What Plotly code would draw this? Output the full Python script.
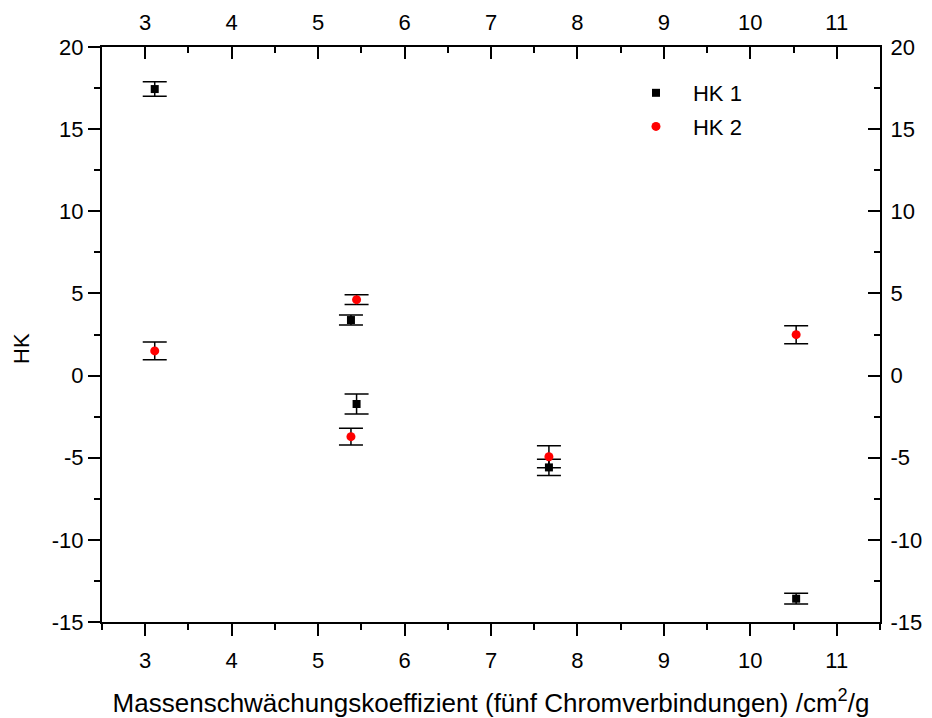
import plotly.graph_objects as go

# Data
hk1_x = [3.11, 5.38, 5.445, 7.67, 10.53]
hk1_y = [17.44, 3.38, -1.73, -5.59, -13.58]
hk1_err = [0.44, 0.30, 0.61, 0.50, 0.33]

hk2_x = [3.11, 5.445, 5.38, 7.67, 10.53]
hk2_y = [1.50, 4.62, -3.72, -4.94, 2.49]
hk2_err = [0.54, 0.30, 0.51, 0.67, 0.55]

y_tickvals = [-15, -10, -5, 0, 5, 10, 15, 20]
y_ticktext = ["-15", "-10", "-5", "0", "5", "10", "15", "20"]

x_title = "Massenschwächungskoeffizient (fünf Chromverbindungen) /cm<sup>2</sup>/g"
y_title = "HK"

FONT = "Liberation Sans, Arial, sans-serif"
FS = 22

fig = go.Figure()
fig.add_trace(go.Scatter(
    x=hk1_x, y=hk1_y, mode="markers", name="HK 1", legendgroup="a",
    marker=dict(symbol="square", size=8, color="black"),
    error_y=dict(type="data", array=hk1_err, visible=True, color="black", thickness=1.5, width=12),
))
fig.add_trace(go.Scatter(
    x=hk2_x, y=hk2_y, mode="markers", name="HK 2", legendgroup="b",
    marker=dict(symbol="circle", size=9, color="#ff0000"),
    error_y=dict(type="data", array=hk2_err, visible=True, color="black", thickness=1.5, width=12),
))
# invisible trace to anchor secondary (top/right) axes
fig.add_trace(go.Scatter(x=[hk1_x[0]], y=[hk1_y[0]], xaxis="x2", yaxis="y2",
                         mode="markers", marker=dict(opacity=0), showlegend=False, hoverinfo="skip"))

XR = [2.5, 11.5]
YR = [-15, 20]
axis_common = dict(showline=True, linecolor="black", linewidth=2, showgrid=False, zeroline=False,
                   ticklen=12, tickwidth=2, tickcolor="black", automargin=False,
                   tickfont=dict(family=FONT, size=FS, color="black"))

fig.update_layout(
    width=924, height=710,
    margin=dict(l=94, r=52, t=39, b=96),
    paper_bgcolor="white", plot_bgcolor="white",
    font=dict(family=FONT, size=FS, color="black"),
    showlegend=True,
    legend=dict(x=0.6645, y=0.9565, xanchor="left", yanchor="top", itemwidth=64,
                bgcolor="rgba(0,0,0,0)", font=dict(family=FONT, size=FS),
                tracegroupgap=2),
    xaxis=dict(range=XR, dtick=1, tick0=3, ticks="outside", ticklabelstandoff=6,
               minor=dict(dtick=0.5, ticklen=6, tickwidth=2, tickcolor="black", ticks="outside"),
               title=dict(text=x_title, font=dict(family=FONT, size=26), standoff=25),
               **axis_common),
    yaxis=dict(range=YR, tickmode="array", tickvals=y_tickvals, ticktext=y_ticktext, ticks="outside",
               minor=dict(dtick=2.5, tick0=0, ticklen=6, tickwidth=2, tickcolor="black", ticks="outside"),
               **axis_common),
    xaxis2=dict(range=XR, dtick=1, tick0=3, ticks="inside", overlaying="x", side="top", anchor="y",
                ticklabelstandoff=6,
                minor=dict(dtick=0.5, ticklen=6, tickwidth=2, tickcolor="black", ticks="inside"),
                **axis_common),
    yaxis2=dict(range=YR, tickmode="array", tickvals=y_tickvals, ticktext=y_ticktext, ticks="inside",
                overlaying="y", side="right", anchor="x", ticklabelstandoff=4,
                minor=dict(dtick=2.5, tick0=0, ticklen=6, tickwidth=2, tickcolor="black", ticks="inside"),
                **axis_common),
    annotations=[dict(text=y_title, xref="paper", yref="paper", x=0, y=0.4748, xshift=-80,
                      xanchor="center", yanchor="middle", textangle=-90, showarrow=False,
                      font=dict(family=FONT, size=FS, color="black"))],
)

fig.write_html("out.html")
